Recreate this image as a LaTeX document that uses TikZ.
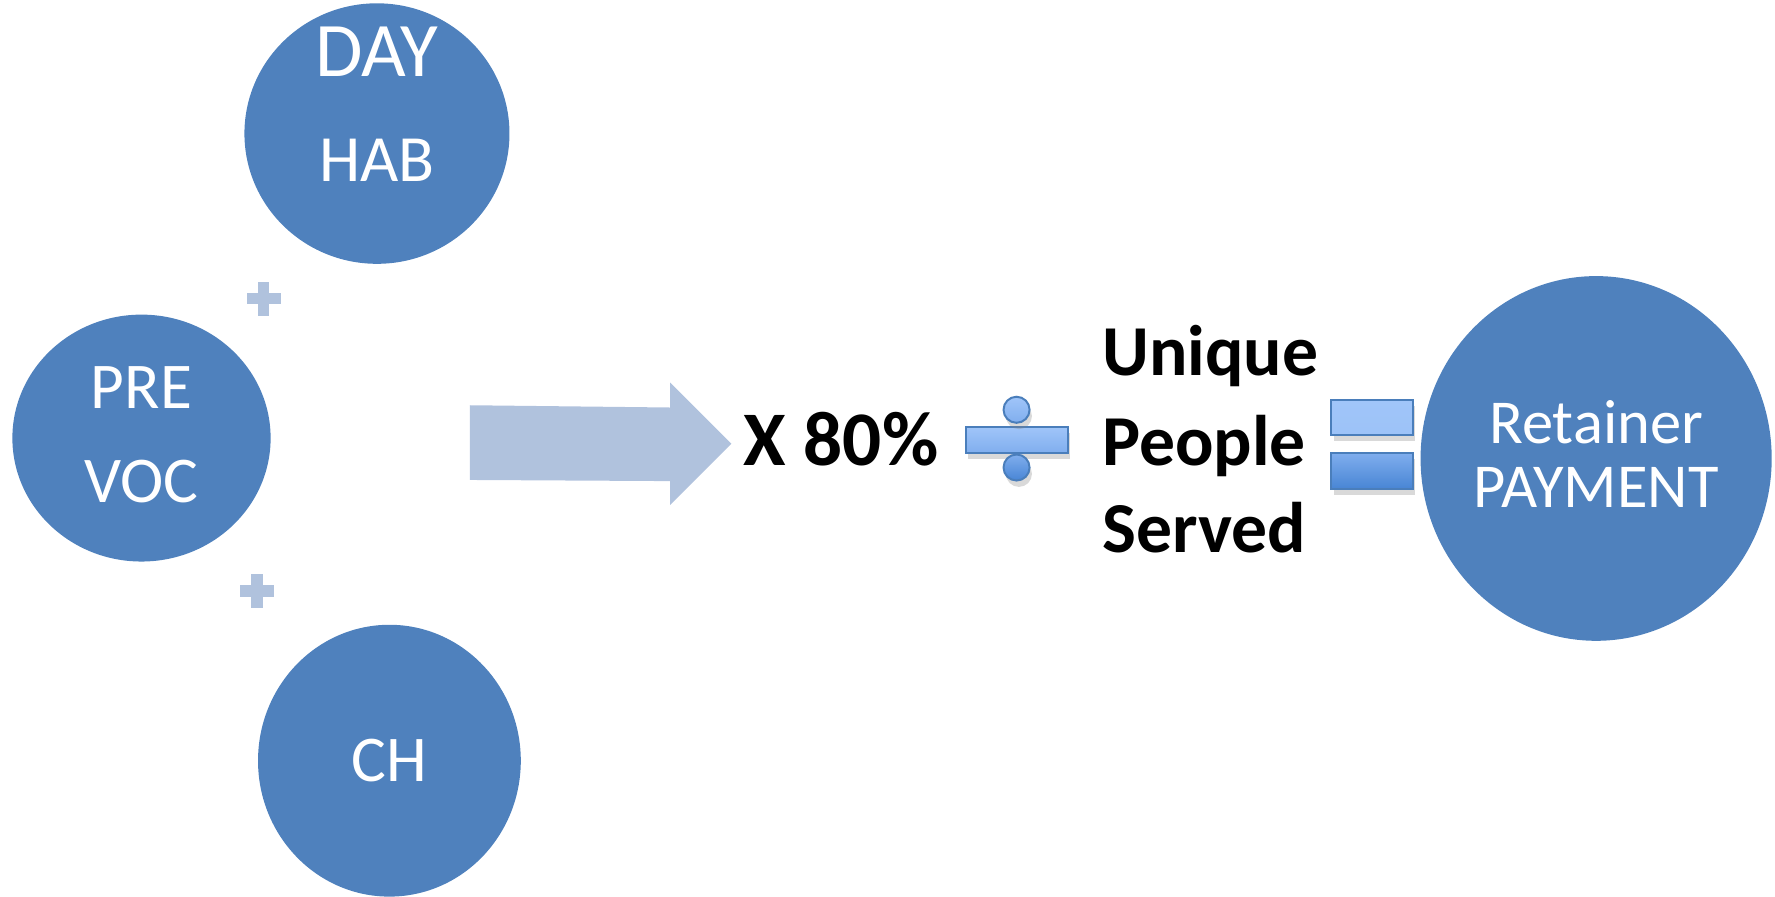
\documentclass[tikz,border=0pt]{standalone}
\usepackage{fontspec}
\setmainfont{Carlito}
\usetikzlibrary{shapes.geometric,shadows}
\definecolor{blobblue}{RGB}{79,129,189}
\definecolor{arrowgrey}{RGB}{176,194,221}
\definecolor{symedge}{RGB}{74,126,187}
\definecolor{symlight}{RGB}{160,197,249}
\definecolor{symmid}{RGB}{128,174,238}
\definecolor{symdark}{RGB}{72,133,212}

\begin{document}
\begin{tikzpicture}[x=0.01cm, y=-0.01cm]
    \tikzstyle{blob} = [ellipse, fill=blobblue, inner sep=0pt]
    \tikzstyle{blobtext} = [text=white, inner sep=0pt, anchor=base]
    \tikzstyle{bigsum} = [font=\bfseries\fontsize{18}{22}\selectfont, inner sep=0pt, anchor=base west]
    \tikzstyle{plus} = [fill=arrowgrey]
    \tikzstyle{symbox} = [draw=symedge, line width=0.5pt, inner sep=0pt,
        drop shadow={shadow xshift=0.6pt, shadow yshift=-1.6pt, opacity=0.3}]
    \useasboundingbox (0,0) rectangle (1568,792);

    % the three circles on the left
    \node[blob, minimum width=2.34cm, minimum height=2.30cm] (dayhab) at (333,118) {};
    \node[blobtext, font=\fontsize{19.4}{20}\selectfont] (day) at (333,68) {DAY};
    \node[blobtext, font=\fontsize{16.6}{18}\selectfont] (hab) at (333,160) {HAB};

    \node[blob, minimum width=2.28cm, minimum height=2.18cm] (prevoc) at (125,387) {};
    \node[blobtext, font=\fontsize{16.4}{18}\selectfont] (pre) at (125,361) {PRE};
    \node[blobtext, font=\fontsize{16.4}{18}\selectfont] (voc) at (125,444) {VOC};

    \node[blob, minimum width=2.32cm, minimum height=2.40cm] (ch) at (344,672) {};
    \node[blobtext, font=\fontsize{16.4}{18}\selectfont] (chtext) at (344,690) {CH};

    % plus signs
    \fill[plus] (228,249) rectangle (238,279);
    \fill[plus] (218,259) rectangle (248,269);
    \fill[plus] (222,507) rectangle (232,537);
    \fill[plus] (212,517) rectangle (242,527);

    % big arrow
    \fill[arrowgrey] (415,358) -- (592,360) -- (592,338) -- (646,392)
        -- (592,446) -- (592,425) -- (415,424) -- cycle;

    \node[font=\bfseries\fontsize{19.4}{22}\selectfont, inner sep=0pt, anchor=base] (times) at (743,411) {X 80\%};

    % divide sign
    \node[symbox, top color=symlight, bottom color=symmid, minimum width=0.90cm, minimum height=0.23cm] (divbar) at (898,388.5) {};
    \node[symbox, circle, top color=symlight, bottom color=symmid, minimum size=0.23cm] (divtop) at (898,362) {};
    \node[symbox, circle, top color=symmid, bottom color=symdark, minimum size=0.23cm] (divbot) at (898,413) {};

    \node[bigsum] (unique) at (973,332) {Unique};
    \node[bigsum] (people) at (973,411) {People};
    \node[bigsum] (served) at (973,488) {Served};

    % equals sign
    \node[symbox, top color=symlight, bottom color=symlight!90!symmid, minimum width=0.72cm, minimum height=0.31cm] (eqtop) at (1212,368.5) {};
    \node[symbox, top color=symmid, bottom color=symdark, minimum width=0.72cm, minimum height=0.32cm] (eqbot) at (1212,416) {};

    \node[blob, minimum width=3.10cm, minimum height=3.22cm] (retainer) at (1410,405) {};
    \node[blobtext, font=\fontsize{15.7}{18}\selectfont] (rettext) at (1410,392) {Retainer};
    \node[blobtext, font=\fontsize{15.7}{18}\selectfont] (paytext) at (1410,448) {PAYMENT};
\end{tikzpicture}
\end{document}
